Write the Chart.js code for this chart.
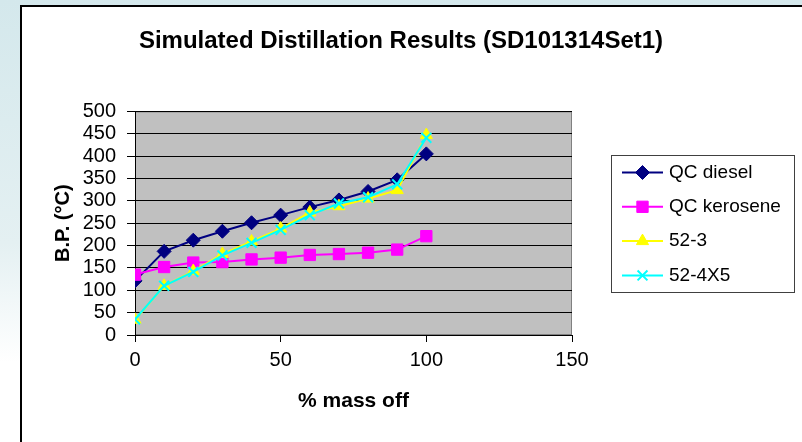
<!DOCTYPE html>
<html>
<head>
<meta charset="utf-8">
<title>Simulated Distillation Results</title>
<script src="https://cdn.jsdelivr.net/npm/chart.js@4.4.1/dist/chart.umd.min.js"></script>
<style>
    html, body { margin: 0; padding: 0; }
    body {
        width: 802px; height: 442px; overflow: hidden; position: relative;
        background: linear-gradient(to bottom, #d4e8ec 0%, #e4f0f2 55%, #ffffff 82%);
    }
    #panel {
        position: absolute; left: 20px; top: 5px; right: 0; bottom: 0;
        background: #fff; border-left: 2px solid #000; border-top: 2px solid #000;
    }
    #myChart { position: absolute; left: 0; top: 0; }
</style>
</head>
<body>
<div id="panel"></div>
<canvas id="myChart" width="802" height="442"></canvas>
<script>
// % mass off vs boiling point (°C)
const massOff = [0, 10, 20, 30, 40, 50, 60, 70, 80, 90, 100];
const qcDiesel = [121, 187, 212, 232, 251, 268, 286, 302, 321, 347, 405];
const qcKerosene = [135, 152, 162, 163, 169, 173, 179, 181, 184, 191, 221];
const sample52_3 = [34, 110, 143, 181, 209, 238, 274, 288, 305, 324, 447];
const sample52_4X5 = [35, 110, 141, 178, 206, 235, 268, 294, 308, 337, 441];
const seriesNames = ['QC diesel', 'QC kerosene', '52-3', '52-4X5'];
const xTicks = [0, 50, 100, 150];
const yTicks = [0, 50, 100, 150, 200, 250, 300, 350, 400, 450, 500];

const FONT = '"Liberation Sans", Arial, sans-serif';

document.addEventListener('DOMContentLoaded', function(){
    iniciarApp();
});

function iniciarApp(){
    dibujarGrafica();
}

function puntos(valores){
    return valores.map((v, i) => ({ x: massOff[i], y: v }));
}

function serie(nombre, valores, color, estilo, radio, borde, orden){
    return {
        label: nombre,
        data: puntos(valores),
        showLine: true,
        borderColor: color,
        backgroundColor: color,
        borderWidth: 2,
        pointStyle: estilo,
        pointRadius: radio,
        pointHoverRadius: radio,
        pointBackgroundColor: color,
        pointBorderColor: color,
        pointBorderWidth: borde,
        order: orden
    };
}

// gray plot area with its frame
const fondoGrafica = {
    id: 'fondoGrafica',
    beforeDraw(chart){
        const {ctx, chartArea: {left, top, width, height}} = chart;
        ctx.save();
        ctx.fillStyle = '#c0c0c0';
        ctx.fillRect(left, top, width, height);
        ctx.strokeStyle = '#808080';
        ctx.lineWidth = 1;
        ctx.strokeRect(left + 0.5, top + 0.5, width - 1, height - 1);
        ctx.restore();
    }
};

// legend on the right: line + marker per series, inside a framed box
const leyenda = {
    id: 'leyenda',
    beforeInit(chart){
        const caja = {
            position: 'right', weight: 0, fullSize: false, options: {},
            left: 0, top: 0, right: 0, bottom: 0, width: 0, height: 0,
            update(maxWidth, maxHeight){ this.width = 230; this.height = maxHeight; },
            isHorizontal(){ return false; },
            draw(){
                const ctx = chart.ctx;
                const x0 = this.left + 39;
                ctx.save();
                ctx.strokeStyle = '#404040';
                ctx.lineWidth = 1;
                ctx.strokeRect(x0 + 0.5, 155.5, 183, 137);
                ctx.font = '19px ' + FONT;
                ctx.textBaseline = 'middle';
                chart.data.datasets.forEach((ds, i) => {
                    const y = 172.5 + i * 34.3;
                    ctx.strokeStyle = ds.borderColor;
                    ctx.lineWidth = 2;
                    ctx.beginPath();
                    ctx.moveTo(x0 + 11, y);
                    ctx.lineTo(x0 + 52, y);
                    ctx.stroke();
                    ctx.fillStyle = ds.pointBackgroundColor;
                    ctx.lineWidth = ds.pointBorderWidth;
                    Chart.helpers.drawPoint(ctx, {
                        pointStyle: ds.pointStyle, radius: ds.pointRadius,
                        borderWidth: ds.pointBorderWidth, rotation: 0
                    }, x0 + 31.5, y);
                    ctx.fillStyle = '#000';
                    ctx.fillText(ds.label, x0 + 58, y);
                });
                ctx.restore();
            }
        };
        Chart.layouts.addBox(chart, caja);
    }
};

function dibujarGrafica(){
    Chart.defaults.font.family = FONT;
    const ctx = document.getElementById('myChart').getContext('2d');
    new Chart(ctx, {
        type: 'scatter',
        data: {
            datasets: [
                serie(seriesNames[0], qcDiesel, '#000080', 'rectRot', 7, 1, 4),
                serie(seriesNames[1], qcKerosene, '#ff00ff', 'rect', 8, 1, 3),
                serie(seriesNames[2], sample52_3, '#ffff00', 'triangle', 7, 1, 2),
                serie(seriesNames[3], sample52_4X5, '#00ffff', 'crossRot', 7, 2, 1)
            ]
        },
        options: {
            responsive: false,
            animation: false,
            layout: { padding: 0 },
            plugins: {
                legend: { display: false },
                tooltip: { enabled: false },
                title: {
                    display: true,
                    text: 'Simulated Distillation Results (SD101314Set1)',
                    color: '#000',
                    font: { size: 24, weight: 'bold' },
                    padding: { top: 27, bottom: 55.6 }
                }
            },
            scales: {
                x: {
                    type: 'linear',
                    min: 0,
                    max: 150,
                    afterBuildTicks: s => { s.ticks = xTicks.map(v => ({ value: v })); },
                    afterFit: s => { s.height = 107; },
                    grid: { drawOnChartArea: false, drawTicks: true, tickLength: 7, tickColor: '#000' },
                    border: { color: '#000', width: 1 },
                    ticks: { color: '#000', font: { size: 20 }, padding: 6, maxRotation: 0 },
                    title: {
                        display: true, text: '% mass off', color: '#000',
                        font: { size: 21, weight: 'bold' },
                        padding: { top: 0, bottom: 28.4 }
                    }
                },
                y: {
                    type: 'linear',
                    min: 0,
                    max: 500,
                    afterBuildTicks: s => { s.ticks = yTicks.map(v => ({ value: v })); },
                    afterFit: s => { s.width = 135; },
                    grid: { color: '#000', lineWidth: 1, drawTicks: true, tickLength: 8, tickColor: '#000' },
                    border: { color: '#000', width: 1 },
                    ticks: { color: '#000', font: { size: 20 }, padding: 11, autoSkip: false },
                    title: {
                        display: true, text: 'B.P. (°C)', color: '#000',
                        font: { size: 20, weight: 'bold' },
                        padding: { top: 51, bottom: 0 }
                    }
                }
            }
        },
        plugins: [fondoGrafica, leyenda]
    });
}
</script>
</body>
</html>
